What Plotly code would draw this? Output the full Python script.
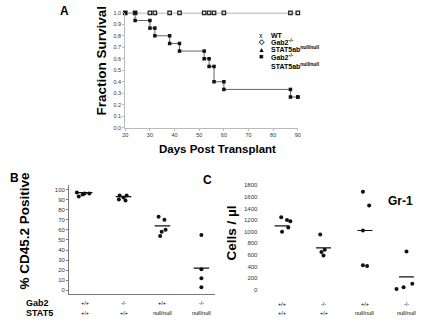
import plotly.graph_objects as go

FONT = "Liberation Sans, Arial, sans-serif"

# ---- Panel A data: survival ----
days = [20, 24, 30, 32, 38, 42, 52, 54, 56, 60, 87, 90]
wt_surv = [1.0] * 12
dko_surv = [1.0, 0.933, 0.867, 0.8, 0.733, 0.667, 0.6, 0.533, 0.4, 0.333, 0.267, 0.267]
a_xticks = [20, 30, 40, 50, 60, 70, 80, 90]
a_yticks = [0.0, 0.1, 0.2, 0.3, 0.4, 0.5, 0.6, 0.7, 0.8, 0.9, 1.0]

# ---- Panel B data: % CD45.2 positive ----
groups = [1, 2, 3, 4]
gab2_labels = ["+/+", "-/-", "+/+", "-/-"]
stat5_labels = ["+/+", "+/+", "null/null", "null/null"]
b_vals = [[97, 96, 96, 95, 93], [94, 94, 92, 90, 89], [73, 70, 60, 58, 54], [55, 21, 12, 3]]
b_means = [97, 93, 64, 22]
b_yticks = [0, 10, 20, 30, 40, 50, 60, 70, 80, 90, 100]

# ---- Panel C data: Gr-1 cells / ul ----
c_vals = [[1250, 1200, 1180, 1070, 1000], [950, 690, 650, 590], [1690, 1450, 1020, 420, 410], [660, 10, 40, 100]]
c_means = [1100, 720, 1020, 220]
c_yticks = [0, 200, 400, 600, 800, 1000, 1200, 1400, 1600, 1800]

# jitter (style only)
b_jit = [[-0.2, 0.0, 0.12, -0.05, -0.15], [-0.1, 0.08, 0.0, -0.12, 0.05], [-0.1, 0.05, 0.08, -0.02, -0.06], [0.0, 0.0, 0.0, 0.0]]
c_jit = [[-0.02, 0.12, 0.2, 0.15, 0.0], [-0.08, 0.03, -0.05, 0.0], [-0.05, 0.1, -0.05, -0.05, 0.05], [0.0, -0.24, -0.07, 0.14]]

fig = go.Figure()

# Panel A
fig.add_trace(go.Scatter(x=days, y=wt_surv, mode="lines+markers", line=dict(color="#666", width=1),
                         marker=dict(symbol="square-open", size=3.5, color="#222", line=dict(width=1.2)),
                         xaxis="x", yaxis="y", showlegend=False, cliponaxis=False))
fig.add_trace(go.Scatter(x=days, y=dko_surv, mode="lines+markers", line=dict(color="#666", width=1, shape="hv"),
                         marker=dict(symbol="square", size=3.5, color="#111"),
                         xaxis="x", yaxis="y", showlegend=False, cliponaxis=False))
fig.add_trace(go.Scatter(x=days[1:], y=dko_surv[:-1], mode="markers",
                         marker=dict(symbol="square", size=3.5, color="#111"),
                         xaxis="x", yaxis="y", showlegend=False, cliponaxis=False))

# Panel B & C dots + mean lines
for i, g in enumerate(groups):
    fig.add_trace(go.Scatter(x=[g + j for j in b_jit[i]], y=b_vals[i], mode="markers",
                             marker=dict(size=4, color="#111"), xaxis="x2", yaxis="y2", showlegend=False))
    fig.add_trace(go.Scatter(x=[g - 0.2, g + 0.2], y=[b_means[i]] * 2, mode="lines",
                             line=dict(color="#111", width=1.2), xaxis="x2", yaxis="y2", showlegend=False))
    fig.add_trace(go.Scatter(x=[g + j for j in c_jit[i]], y=c_vals[i], mode="markers",
                             marker=dict(size=4, color="#111"), xaxis="x3", yaxis="y3", showlegend=False,
                             cliponaxis=False))
    fig.add_trace(go.Scatter(x=[g - 0.18, g + 0.18], y=[c_means[i]] * 2, mode="lines",
                             line=dict(color="#111", width=1.2), xaxis="x3", yaxis="y3", showlegend=False))

W, H = 431, 328
def dx(a, b): return [a / W, b / W]
def dy(top, bottom): return [1 - bottom / H, 1 - top / H]

tickf = dict(family=FONT, size=5.5, color="#333")
fig.update_layout(
    width=W, height=H, margin=dict(l=0, r=0, t=0, b=0),
    paper_bgcolor="white", plot_bgcolor="white",
    xaxis=dict(domain=dx(124, 299), range=[20, 90], tickvals=a_xticks, showgrid=False, zeroline=False,
               showline=True, linecolor="#bbb", linewidth=1, ticks="outside", ticklen=2, tickcolor="#bbb",
               tickfont=tickf, anchor="y"),
    yaxis=dict(domain=dy(10, 127), range=[0, 1], tickvals=a_yticks, tickformat=".1f", showgrid=False,
               zeroline=False, showline=True, linecolor="#bbb", linewidth=1, ticks="outside", ticklen=2,
               tickcolor="#bbb", tickfont=tickf, anchor="x"),
    xaxis2=dict(domain=dx(67, 215), range=[0.6, 4.35], showticklabels=False, showgrid=False, zeroline=False,
                showline=True, linecolor="#777", linewidth=1, anchor="y2"),
    yaxis2=dict(domain=dy(185.9, 296.8), range=[-4, 104], tickvals=b_yticks, showgrid=False, zeroline=False,
                showline=True, linecolor="#777", linewidth=1, ticks="outside", ticklen=2, tickcolor="#777",
                tickfont=dict(family=FONT, size=6, color="#333"), anchor="x2"),
    xaxis3=dict(domain=dx(259, 426), range=[0.43, 4.4], showticklabels=False, showgrid=False, zeroline=False,
                showline=False, anchor="y3"),
    yaxis3=dict(domain=dy(179.8, 297.9), range=[-100, 1900], tickvals=c_yticks, showgrid=False, zeroline=False,
                showline=False, ticks="", tickfont=dict(family=FONT, size=6, color="#333"), anchor="x3"),
)

ann = []
def A(x, y, text, size, xref="paper", yref="paper", bold=True, angle=0, xanchor="center", color="#000"):
    ann.append(dict(x=x, y=y, xref=xref, yref=yref, text=f"<b>{text}</b>" if bold else text,
                    showarrow=False, textangle=angle, xanchor=xanchor, yanchor="middle", borderpad=0,
                    font=dict(family=FONT, size=size, color=color)))

# Panel labels
A(62 / W, 1 - 8 / H, "A", 12)
A(12 / W, 1 - 178 / H, "B", 12)
A(207 / W, 1 - 180 / H, "C", 12)

# Axis titles
A(100 / W, 1 - 59 / H, "Fraction Survival", 13.5, angle=-90)
A(218 / W, 1 - 149 / H, "Days Post Transplant", 11.5)
A(22 / W, 1 - 232 / H, "% CD45.2 Positive", 13.5, angle=-90)
A(232 / W, 1 - 234 / H, "Cells / µl", 13.5, angle=-90)
A(403 / W, 1 - 202 / H, "Gr-1", 12)

# Legend for A
leg_sym = ["x", "◇", "▲", "■"]
leg_txt = ["WT", "Gab2<sup>-/-</sup>", "STAT5ab<sup>null/null</sup>", "Gab2<sup>-/-</sup>"]
leg_y = [33, 40, 47, 55]
for s, t, yy in zip(leg_sym, leg_txt, leg_y):
    A(262 / W, 1 - yy / H, s, 7, bold=(s != "x"))
    A(271 / W, 1 - yy / H, t, 7, xanchor="left")
A(271 / W, 1 - 64 / H, "STAT5ab<sup>null/null</sup>", 7, xanchor="left")

# Category labels under B and C
A(22 / W, 1 - 306 / H, "Gab2", 9, xanchor="left")
A(22 / W, 1 - 315.5 / H, "STAT5", 9, xanchor="left")
for g, l1, l2 in zip(groups, gab2_labels, stat5_labels):
    A(g, 1 - 306 / H, l1, 5.5, xref="x2", bold=False)
    A(g, 1 - 315.5 / H, l2, 5.5, xref="x2", bold=False)
    A(g, 1 - 307 / H, l1, 5.5, xref="x3", bold=False)
    A(g, 1 - 316 / H, l2, 5.5, xref="x3", bold=False)

fig.update_layout(annotations=ann)
fig.write_html("out.html", config={"displayModeBar": False},
               post_script="document.body.style.margin='0';")
